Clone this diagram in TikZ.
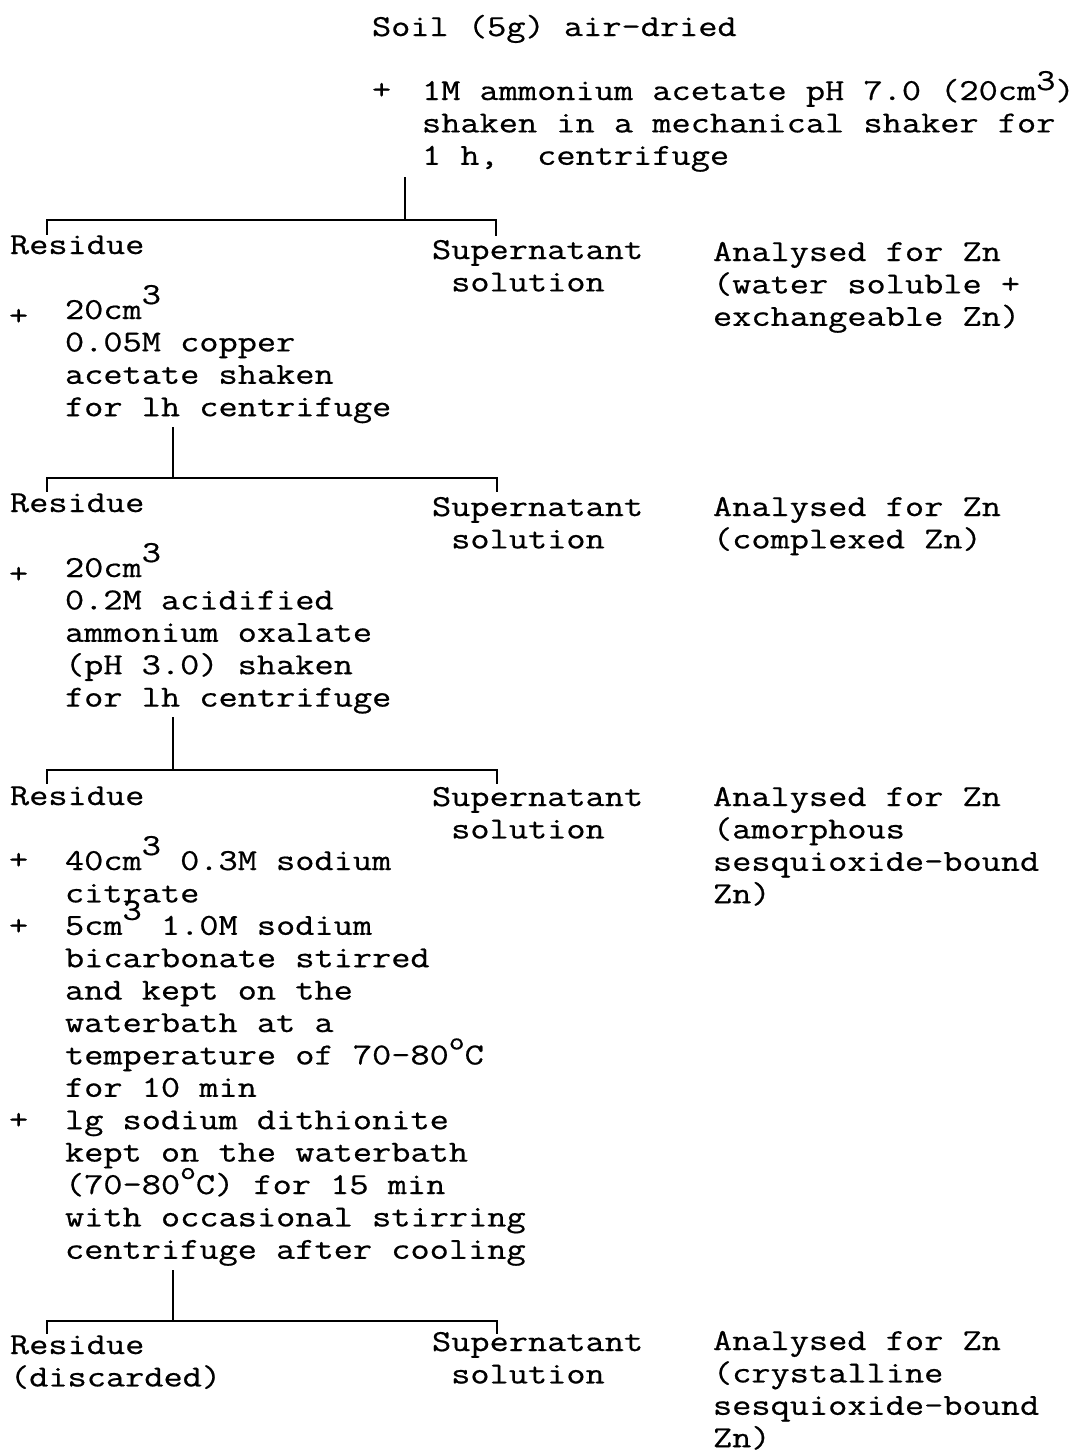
\documentclass[tikz,border=0pt]{standalone}
\usepackage{fontspec}
\usetikzlibrary{calc}
\newfontfamily\twfont{Latin Modern Mono}[FakeStretch=1.222,FakeBold=0.6]
\newcommand\twsize{\twfont\fontsize{30.5}{32.4}\selectfont}
\newcommand\cubed{\raisebox{15pt}[0pt][0pt]{3}}
\newcommand\cubedtop{\raisebox{10pt}[0pt][0pt]{3}}
\newcommand\degO{\raisebox{15pt}[0pt][0pt]{\fontsize{25}{25}\selectfont o}}
\newcommand\blk[1]{\begin{tabular}[t]{@{}l@{}}#1\end{tabular}}
\begin{document}
\begin{tikzpicture}[x=1pt,y=-1pt,
  txt/.style={inner sep=0pt, outer sep=0pt, anchor=base west, font=\twsize},
  link/.style={line width=1.8pt, line cap=rect}]
\useasboundingbox (0,0) rectangle (1079,1451);
\fill[white] (0,0) rectangle (1079,1451);

% top
\node[txt] (soil) at (372,36) {Soil (5g) air-dried};
\node[txt] (p0) at (372,99) {+};
\node[txt] (s0) at (422,100) {\blk{1M ammonium acetate pH 7.0 (20cm\cubedtop)\\shaken in a mechanical shaker for\\1 h,~~centrifuge}};

% row 1
\node[txt] (r1) at (10,254) {Residue};
\node[txt] (u1) at (432,259) {\blk{Supernatant\\~solution}};
\node[txt] (a1) at (713,261) {\blk{Analysed for Zn\\(water soluble +\\exchangeable Zn)}};
\node[txt] (p1) at (9,325) {+};
\node[txt] (s1) at (65,319) {\blk{20cm\cubed\\0.05M copper\\acetate shaken\\for lh centrifuge}};

% row 2
\node[txt] (r2) at (10,512) {Residue};
\node[txt] (u2) at (432,516) {\blk{Supernatant\\~solution}};
\node[txt] (a2) at (713,516) {\blk{Analysed for Zn\\(complexed Zn)}};
\node[txt] (p2) at (9,583) {+};
\node[txt] (s2) at (65,577) {\blk{20cm\cubed\\0.2M acidified\\ammonium oxalate\\(pH 3.0) shaken\\for lh centrifuge}};

% row 3
\node[txt] (r3) at (10,805) {Residue};
\node[txt] (u3) at (432,806) {\blk{Supernatant\\~solution}};
\node[txt] (a3) at (713,806) {\blk{Analysed for Zn\\(amorphous\\sesquioxide-bound\\Zn)}};
\node[txt] (p3a) at (9,869) {+};
\node[txt] (p3b) at (9,935) {+};
\node[txt] (p3c) at (9,1129) {+};
\node[txt] (s3) at (65,870) {\blk{40cm\cubed~0.3M sodium\\citrate\\5cm\cubed~1.0M sodium\\bicarbonate stirred\\and kept on the\\waterbath at a\\temperature of 70-80\degO C\\for 10 min\\lg sodium dithionite\\kept on the waterbath\\(70-80\degO C) for 15 min\\with occasional stirring\\centrifuge after cooling}};

% row 4
\node[txt] (r4) at (10,1354) {\blk{Residue\\(discarded)}};
\node[txt] (u4) at (432,1351) {\blk{Supernatant\\~solution}};
\node[txt] (a4) at (713,1350) {\blk{Analysed for Zn\\(crystalline\\sesquioxide-bound\\Zn)}};

% connectors
\coordinate (j1) at (405,220);
\coordinate (j2) at (173,478);
\coordinate (j3) at (173,770);
\coordinate (j4) at (173,1321);

\draw[link] ([yshift=-3pt]s0.south -| j1) -- (j1);
\draw[link] ($(r1.base west)+(37,-20)$) |- (j1) -| ($(u1.base west)+(64,-24)$);

\draw[link] ([yshift=-2pt]s1.south -| j2) -- (j2);
\draw[link] ($(r2.base west)+(37,-21)$) |- (j2) -| ($(u2.base west)+(65,-25)$);

\draw[link] ([yshift=-2pt]s2.south -| j3) -- (j3);
\draw[link] ($(r3.base west)+(37,-22)$) |- (j3) -| ($(u3.base west)+(65,-23)$);

\draw[link] ([yshift=-2pt]s3.south -| j4) -- (j4);
\draw[link] ($(r4.base west)+(37,-21)$) |- (j4) -| ($(u4.base west)+(65,-18)$);
\end{tikzpicture}
\end{document}
